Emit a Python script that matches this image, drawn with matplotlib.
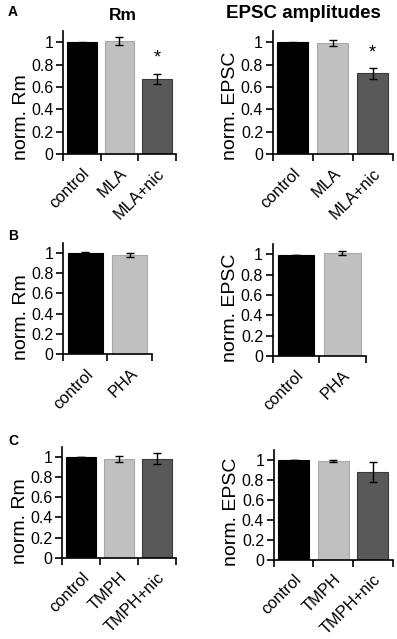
import matplotlib
matplotlib.use('Agg')
from matplotlib import pyplot as plt

plt.rcParams['font.family'] = ['Liberation Sans', 'DejaVu Sans']

# Panel A
A_CATS = ['control', 'MLA', 'MLA+nic']
A_RM = [1.0, 1.01, 0.67]
A_RM_ERR = [0.003, 0.035, 0.045]
A_EPSC = [1.0, 0.99, 0.72]
A_EPSC_ERR = [0.003, 0.025, 0.045]

# Panel B
B_CATS = ['control', 'PHA']
B_RM = [1.0, 0.98]
B_RM_ERR = [0.003, 0.02]
B_EPSC = [0.995, 1.01]
B_EPSC_ERR = [0.003, 0.02]

# Panel C
C_CATS = ['control', 'TMPH', 'TMPH+nic']
C_RM = [1.0, 0.98, 0.98]
C_RM_ERR = [0.003, 0.03, 0.055]
C_EPSC = [1.0, 0.995, 0.885]
C_EPSC_ERR = [0.003, 0.01, 0.10]

YTICKS = [0, 0.2, 0.4, 0.6, 0.8, 1]
YTICK_LABELS = ['0', '0.2', '0.4', '0.6', '0.8', '1']

BAR_COLORS = ['#000000', '#c0c0c0', '#595959']
EDGE_COLORS = ['#000000', '#a8a8a8', '#3a3a3a']

FIG_W, FIG_H = 397, 639


def bar_panel(fig, rect, cats, values, errs, ylabel, stars=None):
    ax = fig.add_axes(rect)
    x = list(range(len(cats)))
    ax.bar(x, values, width=0.78, color=BAR_COLORS[:len(cats)],
           edgecolor=EDGE_COLORS[:len(cats)], linewidth=0.8)
    ax.errorbar(x, values, yerr=errs, fmt='none', ecolor='black',
                elinewidth=1.0, capsize=3, capthick=1.0)
    if stars:
        for i, y in stars:
            ax.text(i, y, '*', ha='center', va='center', fontsize=13)
    ax.set_xlim(-0.5, len(cats) - 0.5)
    ax.set_ylim(0, 1.1)
    ax.set_yticks(YTICKS)
    ax.set_yticklabels(YTICK_LABELS, fontsize=11.5)
    ax.set_xticks([i - 0.5 for i in range(len(cats) + 1)])
    ax.set_xticklabels([])
    ax.set_xticks(x, minor=True)
    ax.set_xticklabels(cats, minor=True, rotation=45, ha='right',
                       rotation_mode='anchor', fontsize=11.8)
    ax.tick_params(axis='x', which='minor', length=0, pad=8.5)
    ax.tick_params(axis='both', which='major', direction='out', length=5,
                   width=1.2, pad=2)
    for side in ['top', 'right']:
        ax.spines[side].set_visible(False)
    for side in ['left', 'bottom']:
        ax.spines[side].set_linewidth(1.2)
    # label starts a little below the zero line, as in the original
    ax.set_ylabel(ylabel, fontsize=14, labelpad=1, loc='bottom')
    ax.yaxis.label.set_y(-6 / (rect[3] * FIG_H))
    return ax


def main():
    fig = plt.figure(figsize=(FIG_W / 100, FIG_H / 100), dpi=100)

    bar_panel(fig, [0.1587, 0.759, 0.2846, 0.1925], A_CATS, A_RM, A_RM_ERR,
              'norm. Rm', stars=[(2, 0.86)])
    bar_panel(fig, [0.687, 0.759, 0.302, 0.1925], A_CATS, A_EPSC, A_EPSC_ERR,
              'norm. EPSC', stars=[(2, 0.90)])
    fig.text(123 / FIG_W, 1 - 15 / FIG_H, 'Rm', fontsize=12.5, fontweight='bold',
             ha='center', va='center')
    fig.text(303 / FIG_W, 1 - 14 / FIG_H, 'EPSC amplitudes', fontsize=13.5,
             fontweight='bold', ha='center', va='center')

    bar_panel(fig, [0.1587, 0.4455, 0.224, 0.175], B_CATS, B_RM, B_RM_ERR, 'norm. Rm')
    bar_panel(fig, [0.687, 0.4429, 0.234, 0.175], B_CATS, B_EPSC, B_EPSC_ERR, 'norm. EPSC')

    bar_panel(fig, [0.157, 0.1272, 0.2864, 0.1737], C_CATS, C_RM, C_RM_ERR, 'norm. Rm')
    bar_panel(fig, [0.690, 0.1236, 0.299, 0.172], C_CATS, C_EPSC, C_EPSC_ERR, 'norm. EPSC')

    for label, y in [('A', 12), ('B', 236), ('C', 441)]:
        fig.text(8 / FIG_W, 1 - y / FIG_H, label, fontsize=10, fontweight='bold',
                 ha='left', va='center')

    fig.savefig('out.png', dpi=100)


if __name__ == '__main__':
    main()
